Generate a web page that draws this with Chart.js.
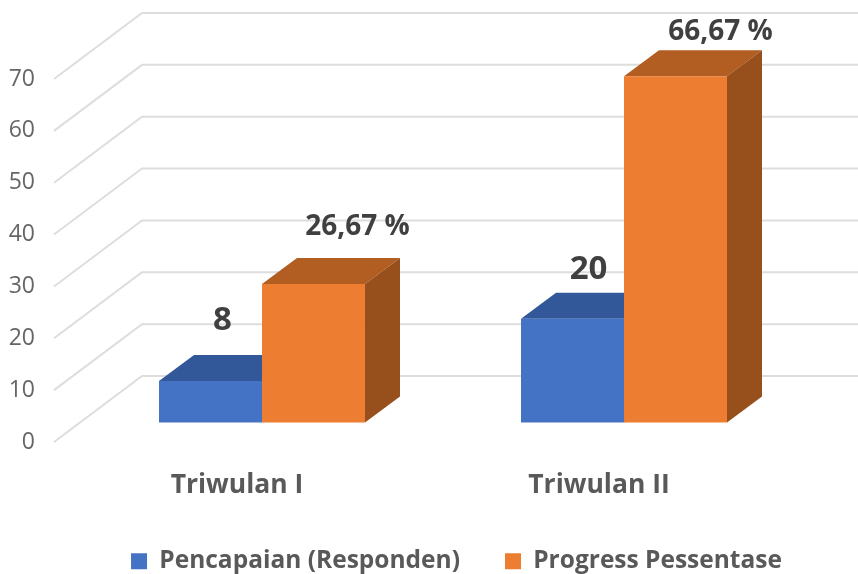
<!DOCTYPE html>
<html>
<head>
<meta charset="utf-8">
<style>
html,body{margin:0;padding:0;background:#fff;}
#wrap{width:858px;height:574px;}
canvas{display:block;filter:blur(0.5px);}
</style>
<script src="https://cdn.jsdelivr.net/npm/chart.js@4"></script>
</head>
<body>
<div id="wrap"><canvas id="c" width="858" height="574"></canvas></div>
<script>
const categories = ["Triwulan I", "Triwulan II"];
const pencapaian = [8, 20];
const progress = [26.67, 66.67];
const pencapaianLabels = ["8", "20"];
const progressLabels = ["26,67 %", "66,67 %"];
const seriesNames = ["Pencapaian (Responden)", "Progress Pessentase"];

const FONT = '"Open Sans", sans-serif';
const shades = [
  {front:"#4472C4", top:"#325899", side:"#2A4A82"},
  {front:"#ED7D31", top:"#B25D22", side:"#974F1C"}
];
const wallDepth = {dx:88, dy:-66};
const barDepth = {dx:35, dy:-26};
const labelShift = [
  [{x:12,y:-60,size:33},{x:16,y:-49,size:33}],
  [{x:44,y:-57,size:28},{x:45,y:-44,size:28}]
];

const scene = {
  id:"scene",
  afterLayout(chart){
    const lg = chart.legend;
    lg.left += 54; lg.right += 54;
    lg.top = 561 - 12 - 45;
  },
  beforeDatasetsDraw(chart){
    const g = chart.ctx, y = chart.scales.y;
    g.save();
    g.strokeStyle = "#DDDDDD"; g.lineWidth = 2;
    y.ticks.forEach(t=>{
      const p = y.getPixelForValue(t.value);
      g.beginPath();
      g.moveTo(54, p);
      g.lineTo(54+wallDepth.dx, p+wallDepth.dy);
      g.lineTo(chart.width, p+wallDepth.dy);
      g.stroke();
    });
    [0,1].forEach(d=>{
      chart.getDatasetMeta(d).data.forEach(b=>{
        const w = b.width/2, l=b.x-w, r=b.x+w, t=b.y, base=b.base;
        const dx=barDepth.dx, dy=barDepth.dy;
        g.fillStyle = shades[d].top;
        g.beginPath();
        g.moveTo(l,t); g.lineTo(l+dx,t+dy); g.lineTo(r+dx,t+dy); g.lineTo(r,t); g.closePath(); g.fill();
        g.fillStyle = shades[d].side;
        g.beginPath();
        g.moveTo(r,t); g.lineTo(r+dx,t+dy); g.lineTo(r+dx,base+dy); g.lineTo(r,base); g.closePath(); g.fill();
      });
    });
    g.restore();
  },
  afterDatasetsDraw(chart){
    const g = chart.ctx;
    g.save();
    g.textAlign="center"; g.textBaseline="middle"; g.fillStyle="#404040";
    [pencapaianLabels, progressLabels].forEach((arr,d)=>{
      chart.getDatasetMeta(d).data.forEach((b,i)=>{
        const s = labelShift[d][i];
        g.font = "700 "+s.size+"px "+FONT;
        g.fillText(arr[i], b.x+s.x, b.y+s.y);
      });
    });
    g.restore();
  }
};

new Chart(document.getElementById("c"),{
  type:"bar",
  data:{
    labels:categories,
    datasets:[
      {label:seriesNames[0],data:pencapaian,backgroundColor:shades[0].front,borderWidth:0,yAxisID:"y2",clip:false,
       barPercentage:1,categoryPercentage:0.569},
      {label:seriesNames[1],data:progress,backgroundColor:shades[1].front,borderWidth:0,yAxisID:"y2",clip:false,
       barPercentage:1,categoryPercentage:0.569}
    ]
  },
  options:{
    responsive:false,
    animation:false,
    devicePixelRatio:1,
    layout:{padding:{left:0,right:53,top:79,bottom:0}},
    scales:{
      x:{
        grid:{display:false},border:{display:false},
        ticks:{color:"#595959",font:{family:FONT,size:26.5,weight:"700"},padding:20,labelOffset:-25,maxRotation:0},
        afterFit(s){s.height=122;}
      },
      y:{
        position:"left",min:0,max:70,
        grid:{display:false},border:{display:false},
        ticks:{stepSize:10,color:"#666666",font:{family:FONT,size:23,weight:"400"},padding:38},
        afterFit(s){s.width=81;}
      },
      y2:{
        position:"left",display:false,min:-3.73,max:66.13
      }
    },
    plugins:{
      legend:{
        position:"bottom",maxHeight:10,
        labels:{color:"#595959",font:{family:FONT,size:24.5,weight:"700"},boxWidth:16,boxHeight:16,padding:45}
      },
      tooltip:{enabled:false}
    }
  },
  plugins:[scene]
});
</script>
</body>
</html>
